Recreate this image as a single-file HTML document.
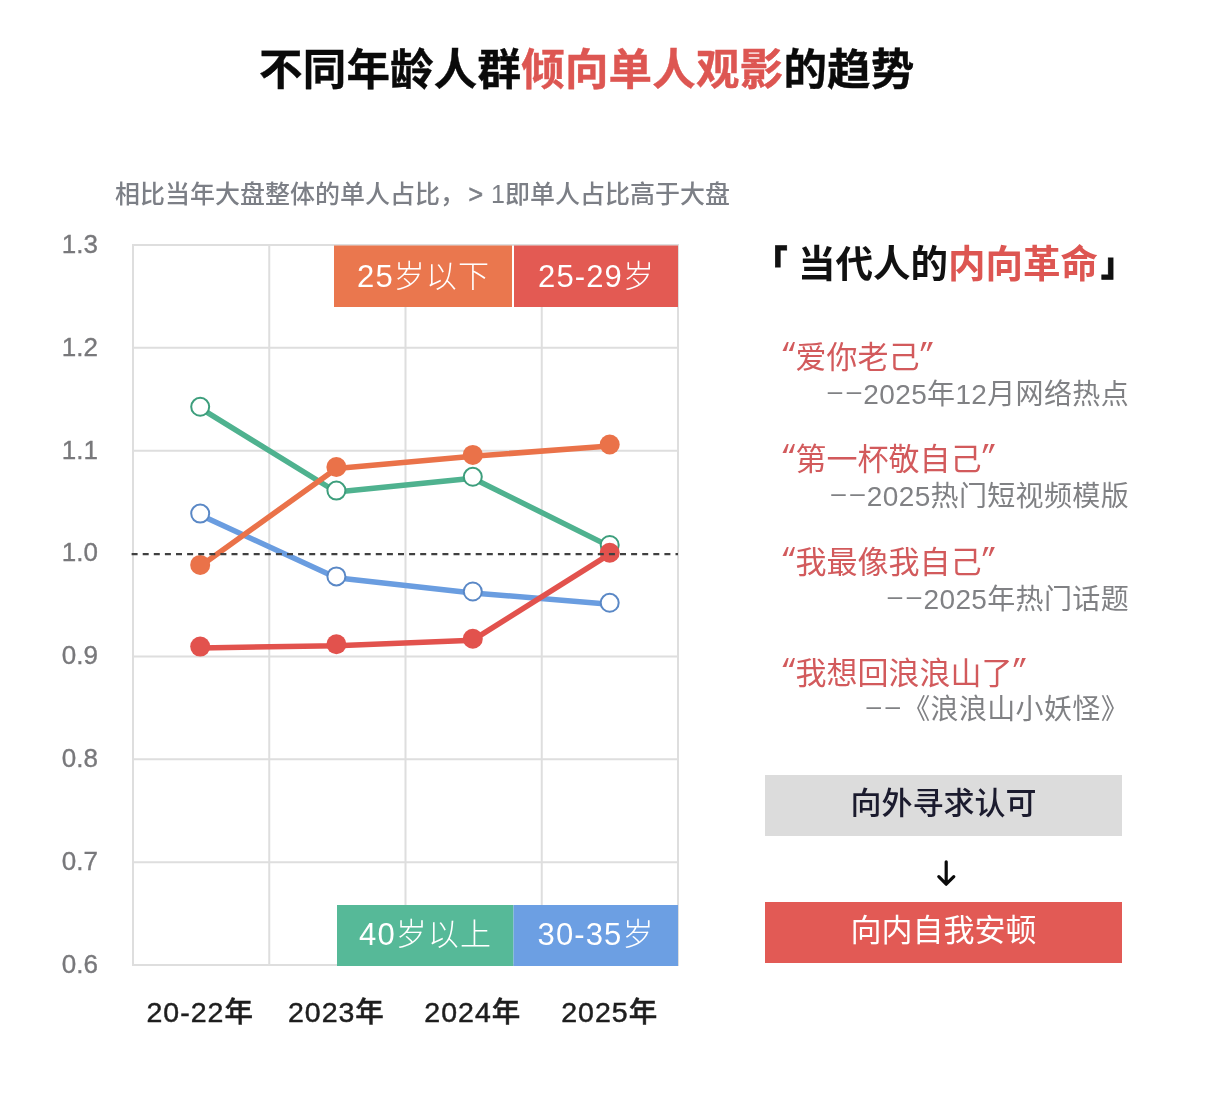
<!DOCTYPE html>
<html lang="zh-CN">
<head>
<meta charset="utf-8">
<title>不同年龄人群倾向单人观影的趋势</title>
<style>
html,body{margin:0;padding:0;background:#fff;}
body{width:1212px;height:1104px;position:relative;overflow:hidden;font-family:"Liberation Sans","Noto Sans CJK SC",sans-serif;}
.a{position:absolute;white-space:nowrap;line-height:1;}
.red{color:#dd5652;}
#title{left:259px;top:49px;font-size:43.5px;font-weight:700;color:#0a0a0a;letter-spacing:0.2px;-webkit-text-stroke-width:0.4px;}
#sub{left:115px;top:182px;font-size:25px;font-weight:500;color:#7c7f86;}
.yl{position:absolute;left:40px;width:58px;text-align:right;font-size:26px;color:#78787b;line-height:26px;-webkit-text-stroke:0.35px #78787b;}
.xl{position:absolute;width:200px;text-align:center;font-size:28.5px;font-weight:500;color:#1e1e1e;line-height:28.5px;top:997.5px;letter-spacing:1px;-webkit-text-stroke:0.5px #1e1e1e;}
.tag{position:absolute;color:#fff;font-size:31px;font-weight:300;text-align:center;white-space:nowrap;letter-spacing:1.1px;text-indent:1.1px;}
#head{left:754.5px;top:245.5px;font-size:37.5px;font-weight:700;color:#111;}
.br{font-size:33px;font-weight:900;-webkit-text-stroke:0.8px #111;}
.q{position:absolute;left:783px;font-size:31px;font-weight:400;color:#d25a5c;line-height:31px;white-space:nowrap;}
.q .o,.q .c{font-family:"Liberation Mono",monospace;font-size:29px;position:relative;top:-4px;}
.q .o{margin-left:-3px;margin-right:-2px;}
.q .c{margin-left:-1.5px;}
.s{position:absolute;right:83px;font-size:28px;font-weight:400;color:#808184;line-height:28px;letter-spacing:0.35px;text-align:right;white-space:nowrap;}
.s .d{font-size:26px;letter-spacing:4.6px;margin-right:-2.4px;position:relative;top:-4px;}
.box{position:absolute;left:765px;width:357px;height:61px;font-size:31px;text-align:center;line-height:57.5px;}
</style>
</head>
<body>
<div class="a" id="title">不同年龄人群<span class="red">倾向单人观影</span>的趋势</div>
<div class="a" id="sub">相比当年大盘整体的单人占比，<span style="margin:0 1px 0 3.5px;-webkit-text-stroke-width:0.6px">&gt;</span> 1即单人占比高于大盘</div>
<div class="yl" style="top:231.00px">1.3</div>
<div class="yl" style="top:333.86px">1.2</div>
<div class="yl" style="top:436.71px">1.1</div>
<div class="yl" style="top:538.57px">1.0</div>
<div class="yl" style="top:642.43px">0.9</div>
<div class="yl" style="top:745.28px">0.8</div>
<div class="yl" style="top:848.14px">0.7</div>
<div class="yl" style="top:951.00px">0.6</div>
<svg style="position:absolute;left:0;top:0" width="1212" height="1104" viewBox="0 0 1212 1104">
  <g stroke="#dedede" stroke-width="2" fill="none">
    <path d="M133 245.00H678M133 347.86H678M133 450.71H678M133 656.43H678M133 759.28H678M133 862.14H678M133 965.00H678"/>
    <path d="M133 244V966M269.25 244V966M405.5 244V966M541.75 244V966M678 244V966"/>
  </g>
  <rect x="334" y="245.5" width="178" height="61.5" fill="#ea774e"/>
  <rect x="514" y="245.5" width="164" height="61.5" fill="#e35a53"/>
  <rect x="337" y="905" width="176.5" height="61" fill="#56b998"/>
  <rect x="513.5" y="905" width="164.5" height="61" fill="#6c9fe3"/>
  <polyline transform="translate(0,1.4)" points="200.2,406.8 336.4,490.6 472.8,476.8 609.7,545.0" fill="none" stroke="#4fb28f" stroke-width="5.5" stroke-linejoin="round"/>
  <polyline transform="translate(0,1.4)" points="200.2,513.6 336.4,576.4 472.8,591.5 609.7,602.8" fill="none" stroke="#6a9de0" stroke-width="5.5" stroke-linejoin="round"/>
  <g fill="#fff" stroke-width="2">
<circle cx="200.2" cy="406.8" r="9" stroke="#3d9e7c"/>
<circle cx="336.4" cy="490.6" r="9" stroke="#3d9e7c"/>
<circle cx="472.8" cy="476.8" r="9" stroke="#3d9e7c"/>
<circle cx="609.7" cy="545.0" r="9" stroke="#3d9e7c"/>
<circle cx="200.2" cy="513.6" r="9" stroke="#5a88c6"/>
<circle cx="336.4" cy="576.4" r="9" stroke="#5a88c6"/>
<circle cx="472.8" cy="591.5" r="9" stroke="#5a88c6"/>
<circle cx="609.7" cy="602.8" r="9" stroke="#5a88c6"/>
  </g>
  <polyline transform="translate(0,1.4)" points="200.2,564.9 336.4,467.0 472.8,454.9 609.7,444.5" fill="none" stroke="#ea7249" stroke-width="5.5" stroke-linejoin="round"/>
  <g fill="#ea7249">
<circle cx="200.2" cy="564.9" r="10"/>
<circle cx="336.4" cy="467.0" r="10"/>
<circle cx="472.8" cy="454.9" r="10"/>
<circle cx="609.7" cy="444.5" r="10"/>
  </g>
  <polyline transform="translate(0,1.4)" points="200.2,646.6 336.4,644.3 472.8,638.8 609.7,552.7" fill="none" stroke="#e2524d" stroke-width="5.5" stroke-linejoin="round"/>
  <g fill="#e2524d">
<circle cx="200.2" cy="646.6" r="10"/>
<circle cx="336.4" cy="644.3" r="10"/>
<circle cx="472.8" cy="638.8" r="10"/>
<circle cx="609.7" cy="552.7" r="10"/>
  </g>
  <path d="M131.6 554.2H678" stroke="#404040" stroke-width="2.2" stroke-dasharray="6 5.1"/>
  <path d="M946.2 861.8V883.5M938.8 876.6L946.2 884.2L953.8 876.6" stroke="#0a0a0a" stroke-width="3.2" stroke-linecap="round" stroke-linejoin="round" fill="none"/>
</svg>
<div class="tag" style="left:334px;top:245px;width:178px;height:62px;line-height:63px">25岁以下</div>
<div class="tag" style="left:514px;top:245px;width:164px;height:62px;line-height:63px">25-29岁</div>
<div class="tag" style="left:337px;top:905px;width:176px;height:61px;line-height:60px">40岁以上</div>
<div class="tag" style="left:513px;top:905px;width:165px;height:61px;line-height:60px">30-35岁</div>

<div class="xl" style="left:100.2px">20-22年</div>
<div class="xl" style="left:236.4px">2023年</div>
<div class="xl" style="left:372.8px">2024年</div>
<div class="xl" style="left:509.7px">2025年</div>

<div class="a" id="head"><span class="br" style="position:relative;top:-3px">「</span> 当代人的<span class="red">内向革命</span><span class="br" style="position:relative;top:-1px;left:3px">」</span></div>

<div class="q" style="top:342px"><span class="o">“</span>爱你老己<span class="c">”</span></div>
<div class="s" style="top:381.1px"><span class="d">––</span>2025年12月网络热点</div>
<div class="q" style="top:444px"><span class="o">“</span>第一杯敬自己<span class="c">”</span></div>
<div class="s" style="top:483.1px"><span class="d">––</span>2025热门短视频模版</div>
<div class="q" style="top:546.5px"><span class="o">“</span>我最像我自己<span class="c">”</span></div>
<div class="s" style="top:586.1px"><span class="d">––</span>2025年热门话题</div>
<div class="q" style="top:657.8px"><span class="o">“</span>我想回浪浪山了<span class="c">”</span></div>
<div class="s" style="top:696.1px"><span class="d">––</span>《浪浪山小妖怪》</div>

<div class="box" style="top:775px;background:#dcdcdc;color:#1b1b2e;font-weight:500;">向外寻求认可</div>
<div class="box" style="top:901.5px;background:#e25a55;color:#fff;line-height:58px;">向内自我安顿</div>
</body>
</html>
